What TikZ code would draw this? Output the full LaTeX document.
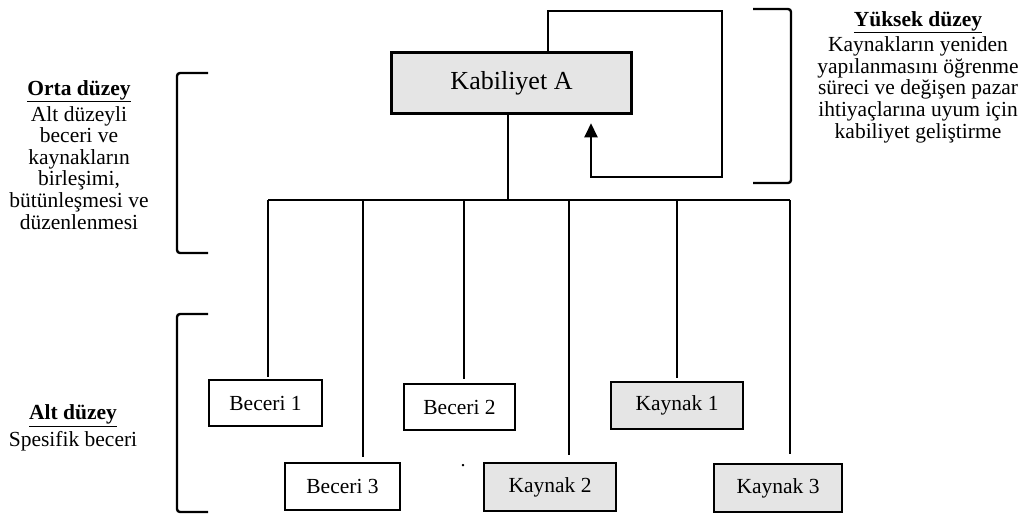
\documentclass[tikz,border=0pt]{standalone}
\usepackage{fontspec}
\setmainfont{Liberation Serif}
\usetikzlibrary{arrows.meta}
\begin{document}
\begin{tikzpicture}[x=1pt,y=-1pt,
  conn/.style={line width=2pt},
  brack/.style={line width=2.4pt,rounded corners=3pt},
  item/.style={draw,line width=2pt,rectangle,inner sep=0pt,font=\fontsize{21.5}{23}\selectfont},
  res/.style={item,fill=gray!20},
  lbl/.style={align=center,font=\fontsize{21.5}{21.6}\selectfont,inner sep=0pt}]
\useasboundingbox (0,0) rectangle (1033,515);

% capability box
\node[draw,line width=3.5pt,fill=gray!20,minimum width=240pt,minimum height=61pt,inner sep=0pt,
      font=\fontsize{26}{28}\selectfont] (ka) at (511.5,83) {Kabiliyet A};

% skills and resources
\node[item,minimum width=113pt,minimum height=46pt] (b1) at (265.5,403) {Beceri 1};
\node[item,minimum width=111pt,minimum height=46pt] (b2) at (459.5,407) {Beceri 2};
\node[item,minimum width=115pt,minimum height=47pt] (b3) at (342.5,486.5) {Beceri 3};
\node[res,minimum width=132pt,minimum height=47pt] (k1) at (677,405.5) {Kaynak 1};
\node[res,minimum width=132pt,minimum height=48pt] (k2) at (550,487) {Kaynak 2};
\node[res,minimum width=128pt,minimum height=48pt] (k3) at (778,488) {Kaynak 3};
\node[inner sep=0pt,font=\fontsize{20}{22}\selectfont] (dot) at (463,466) {.};

% bus and drops
\coordinate (busL) at (268,200);
\coordinate (busR) at (790,200);
\coordinate (stem) at (508,200);
\coordinate (d1) at (268,200);
\coordinate (d3) at (363,200);
\coordinate (d2) at (464,200);
\coordinate (d5) at (569,200);
\coordinate (d4) at (677,200);
\coordinate (d6) at (790,200);
\draw[conn] (busL) -- (busR);
\draw[conn] (ka.south -| stem) -- (stem);
\draw[conn,shorten >=2pt] (d1) -- (d1 |- b1.north);
\draw[conn,shorten >=5pt] (d3) -- (d3 |- b3.north);
\draw[conn,shorten >=4pt] (d2) -- (d2 |- b2.north);
\draw[conn,shorten >=7pt] (d5) -- (d5 |- k2.north);
\draw[conn,shorten >=3pt] (d4) -- (d4 |- k1.north);
\draw[conn,shorten >=9pt] (d6) -- (d6 |- k3.north);

% learning loop
\coordinate (fbA) at (548,11);
\coordinate (fbB) at (722,177);
\coordinate (fbC) at (591,177);
\draw[conn,-{Triangle[length=14pt,width=13pt]},shorten >=8pt]
  (ka.north -| fbA) -- (fbA) -| (fbB) -- (fbC) -- (ka.south -| fbC);

% level brackets
\draw[brack] (208,73) -- (177,73) -- (177,253) -- (208,253);
\draw[brack] (208,314) -- (177,314) -- (177,512) -- (208,512);
\draw[brack] (753,9) -- (791,9) -- (791,183) -- (753,183);

% level descriptions
\node[lbl] (orta) at (79,155) {\underline{\textbf{Orta düzey}}\\[4pt]Alt düzeyli\\beceri ve\\kaynakların\\birleşimi,\\bütünleşmesi ve\\düzenlenmesi};
\node[lbl] (alt) at (73,428) {\underline{\textbf{Alt düzey}}\\[4pt]Spesifik beceri};
\node[lbl] (yuksek) at (918,77) {\underline{\textbf{Yüksek düzey}}\\[4pt]Kaynakların yeniden\\yapılanmasını öğrenme\\süreci ve değişen pazar\\ihtiyaçlarına uyum için\\kabiliyet geliştirme};
\end{tikzpicture}
\end{document}
